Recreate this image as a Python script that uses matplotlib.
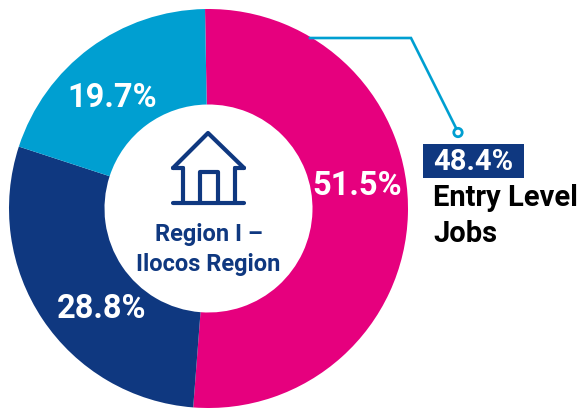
#!/usr/bin/env python3
"""Donut chart of entry level job share for Region I."""
import matplotlib
matplotlib.use("Agg")
import matplotlib.pyplot as plt
from matplotlib.patches import Circle, Rectangle

plt.rcParams["font.family"] = ["Roboto", "DejaVu Sans"]

W, H = 581, 408

values = [51.5, 28.8, 19.7]
colors = ["#E6007E", "#0F3880", "#009FD1"]
centre_label = ["Region I –", "Ilocos Region"]
callout_value = "48.4%"
callout_label = ["Entry Level", "Jobs"]

# label centres in image pixels
label_pos = [(357, 186), (102, 309), (112, 98)]

NAVY = "#0F3880"
CYAN = "#009FD1"


def yy(py):
    # image pixels run downwards, the axes upwards
    return H - py


fig = plt.figure(figsize=(W / 100, H / 100), dpi=100)
ax = fig.add_axes([0, 0, 1, 1])

ax.pie(values, colors=colors, center=(208.5, yy(208.5)), radius=199.5,
       startangle=91, counterclock=False, frame=True,
       wedgeprops=dict(width=95.5, linewidth=0))
ax.set_xlim(0, W)
ax.set_ylim(0, H)
ax.set_aspect("equal")
ax.axis("off")

for v, (px, py) in zip(values, label_pos):
    ax.text(px, yy(py), f"{v}%", color="white", fontsize=23.5, fontweight="bold",
            ha="center", va="center")

# house icon
lw = 3.0
house = [
    ([173, 208, 244], [168, 133, 168]),   # roof
    ([173, 183], [168, 168]),
    ([235, 244], [168, 168]),
    ([183, 183], [168, 203]),             # walls
    ([235, 235], [168, 203]),
    ([173, 244], [203, 203]),             # floor
    ([200, 200, 218, 218], [203, 172, 172, 203]),  # door
]
for xs, ys in house:
    ax.plot(xs, [yy(y) for y in ys], color=NAVY, lw=lw,
            solid_capstyle="round", solid_joinstyle="round")

for line, py in zip(centre_label, [234, 264]):
    ax.text(208.5, yy(py), line, color=NAVY, fontsize=17, fontweight="bold",
            ha="center", va="center")

# leader line
ax.plot([310, 411, 456], [yy(38), yy(38), yy(128)], color=CYAN, lw=1.9,
        solid_joinstyle="miter")
ax.add_patch(Circle((458, yy(132.5)), 4.2, facecolor="white", edgecolor=CYAN, lw=2.0))

# callout
ax.add_patch(Rectangle((423, yy(178)), 101, 34, facecolor=NAVY, edgecolor="none"))
ax.text(433, yy(162), callout_value, color="white", fontsize=21, fontweight="bold",
        ha="left", va="center")
for line, base in zip(callout_label, [206, 242]):
    ax.text(433, yy(base), line, color="black", fontsize=21, fontweight="bold",
            ha="left", va="baseline")

fig.savefig("out.png", dpi=100)
